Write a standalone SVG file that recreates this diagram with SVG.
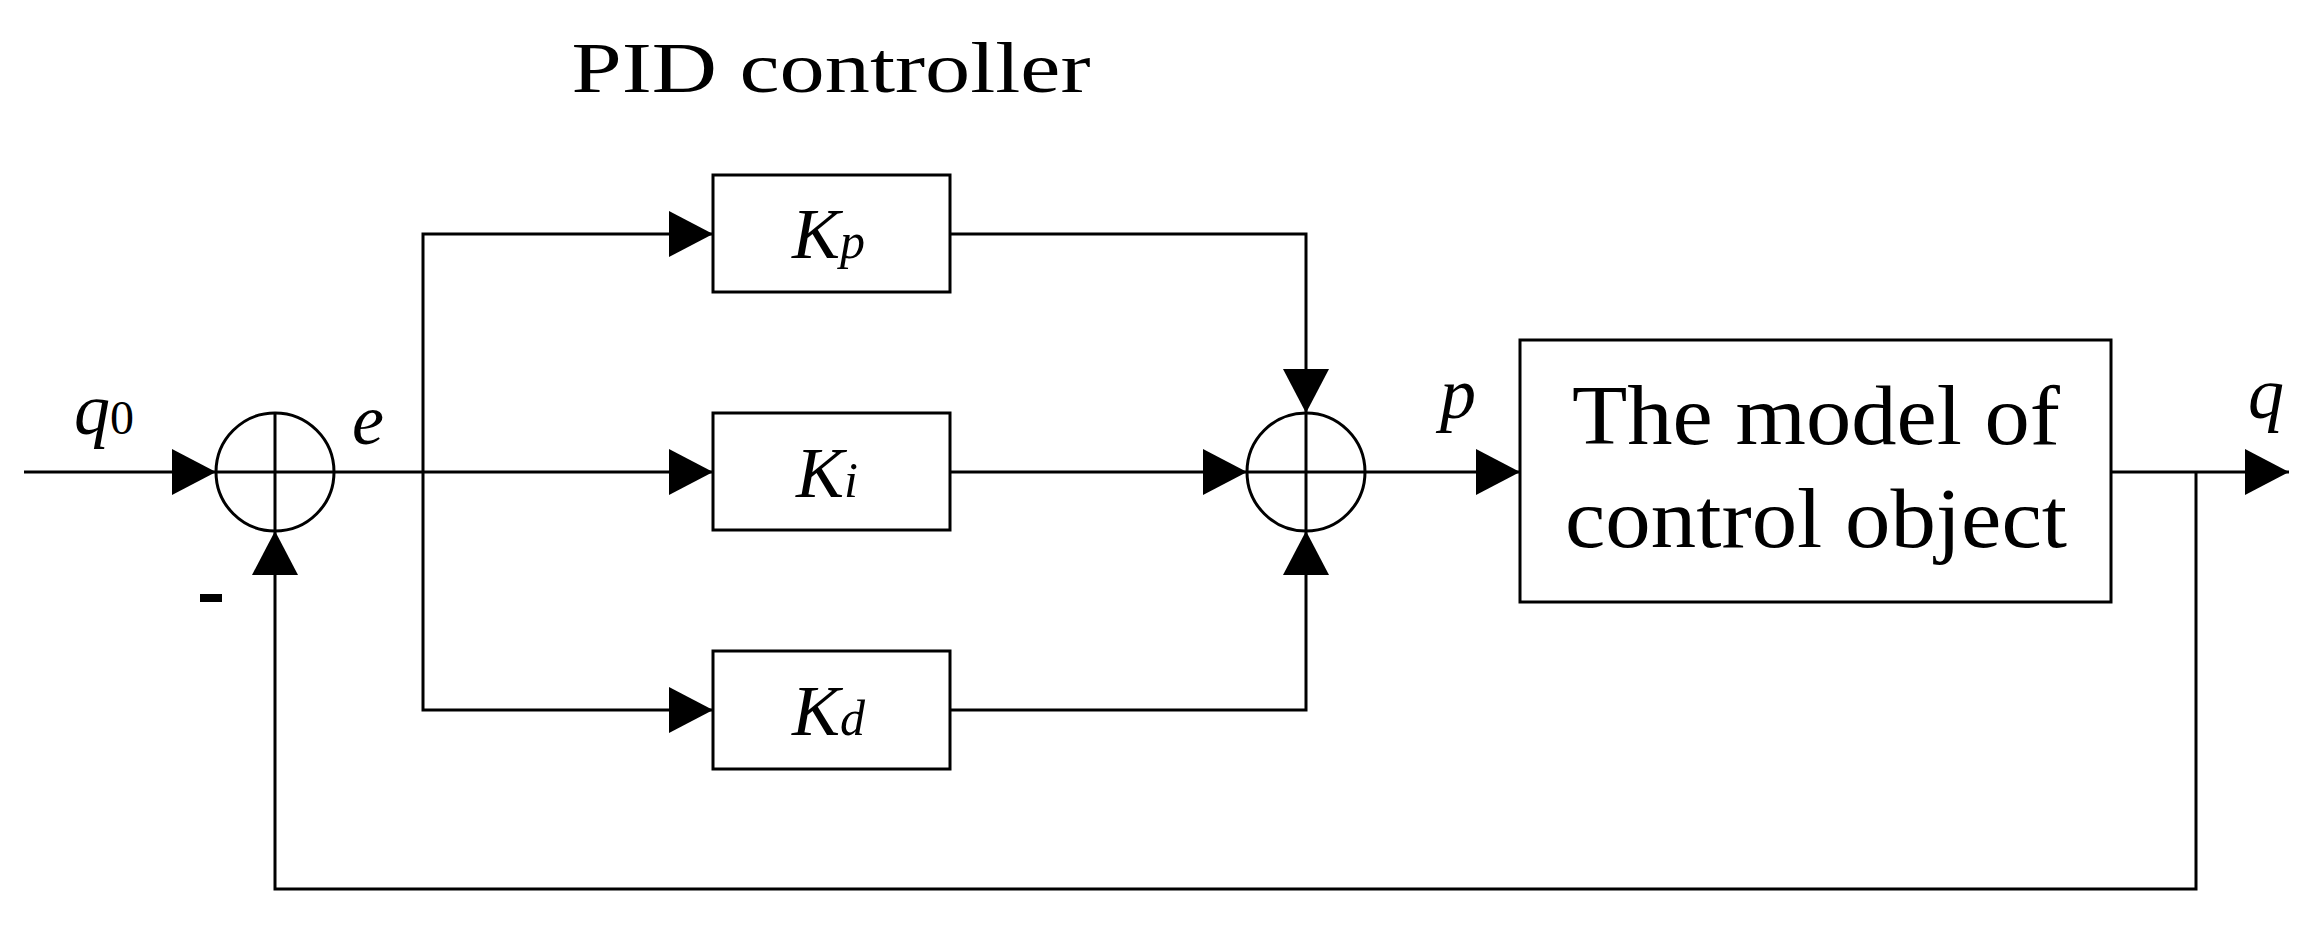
<svg xmlns="http://www.w3.org/2000/svg" width="2320" height="928" viewBox="0 0 2320 928">
<defs>
<marker id="ar" markerWidth="44" markerHeight="46" refX="44" refY="23" orient="auto" markerUnits="userSpaceOnUse"><path d="M0,0 L44,23 L0,46 Z" fill="#000"/></marker>
<style>
.ln{fill:none;stroke:#000;stroke-width:3}
.bx{fill:#fff;stroke:#000;stroke-width:3}
.t{font-family:"Liberation Serif",serif;fill:#000}
.i{font-style:italic}
</style>
</defs>
<rect width="2320" height="928" fill="#fff"/>
<text class="t" x="831" y="92" font-size="72" text-anchor="middle" textLength="519" lengthAdjust="spacingAndGlyphs">PID controller</text>
<g id="connectors">
<path class="ln" d="M24,472 H216" marker-end="url(#ar)"/>
<path class="ln" d="M334,472 H713" marker-end="url(#ar)"/>
<path class="ln" d="M423,472 V234 H713" marker-end="url(#ar)"/>
<path class="ln" d="M423,472 V710 H713" marker-end="url(#ar)"/>
<path class="ln" d="M950,234 H1306 V413" marker-end="url(#ar)"/>
<path class="ln" d="M950,472 H1247" marker-end="url(#ar)"/>
<path class="ln" d="M950,710 H1306 V531" marker-end="url(#ar)"/>
<path class="ln" d="M1365,472 H1520" marker-end="url(#ar)"/>
<path class="ln" d="M2111,472 H2289" marker-end="url(#ar)"/>
<path class="ln" d="M2196,472 V889 H275 V531" marker-end="url(#ar)"/>
</g>
<g id="sum1"><circle class="bx" cx="275" cy="472" r="59"/><path class="ln" d="M216,472 H334 M275,413 V531"/></g>
<g id="sum2"><circle class="bx" cx="1306" cy="472" r="59"/><path class="ln" d="M1247,472 H1365 M1306,413 V531"/></g>
<g id="kp"><rect class="bx" x="713" y="175" width="237" height="117"/><text class="t i" x="792" y="258" font-size="72">K<tspan font-size="50">p</tspan></text></g>
<g id="ki"><rect class="bx" x="713" y="413" width="237" height="117"/><text class="t i" x="796" y="497" font-size="72">K<tspan font-size="50">i</tspan></text></g>
<g id="kd"><rect class="bx" x="713" y="651" width="237" height="118"/><text class="t i" x="792" y="735" font-size="72">K<tspan font-size="50">d</tspan></text></g>
<g id="plant"><rect class="bx" x="1520" y="340" width="591" height="262"/>
<text class="t" x="1816" y="444" font-size="84" text-anchor="middle" textLength="488" lengthAdjust="spacingAndGlyphs">The model of</text>
<text class="t" x="1816" y="547" font-size="84" text-anchor="middle" textLength="502" lengthAdjust="spacingAndGlyphs">control object</text></g>
<g id="labels">
<text class="t i" x="74" y="434" font-size="72">q<tspan font-style="normal" font-size="48">0</tspan></text>
<text class="t i" x="352" y="444" font-size="72">e</text>
<rect x="200" y="594" width="22" height="8" fill="#000"/>
<text class="t i" x="1440" y="418" font-size="72">p</text>
<text class="t i" x="2248" y="418" font-size="72">q</text>
</g>
</svg>
